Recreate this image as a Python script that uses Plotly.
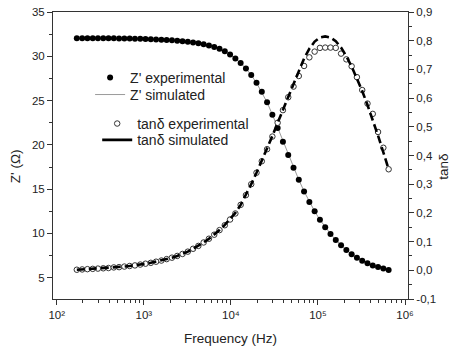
import plotly.graph_objects as go

# ---------------- data ----------------
freq_hz = [170, 196, 225, 259, 297, 342, 393, 452, 520, 598,
           688, 791, 910, 1046, 1203, 1383, 1591, 1829, 2104, 2419,
           2782, 3200, 3679, 4231, 4866, 5596, 6435, 7401, 8511, 9787,
           11255, 12944, 14885, 17118, 19686, 22639, 26034, 29940, 34431, 39595,
           45535, 52365, 60220, 69253, 79641, 91587, 105325, 121124, 139293, 160187,
           184215, 211847, 243624, 280167, 322193, 370522, 426100, 490015, 563517, 648045]

z_experimental = [32.05, 32.05, 32.05, 32.04, 32.04, 32.04, 32.03, 32.03, 32.02, 32.01,
                  32.00, 31.99, 31.97, 31.95, 31.93, 31.90, 31.87, 31.84, 31.80, 31.75,
                  31.70, 31.63, 31.55, 31.46, 31.35, 31.21, 31.05, 30.85, 30.56, 30.20,
                  29.75, 29.25, 28.62, 27.90, 27.00, 26.00, 24.80, 23.40, 21.90, 20.35,
                  18.85, 17.42, 16.05, 14.75, 13.55, 12.50, 11.55, 10.70, 9.95, 9.27,
                  8.66, 8.13, 7.66, 7.26, 6.92, 6.63, 6.38, 6.20, 6.05, 5.88]

z_simulated = [32.05, 32.05, 32.05, 32.04, 32.04, 32.04, 32.03, 32.03, 32.02, 32.01,
               32.00, 31.99, 31.97, 31.95, 31.93, 31.90, 31.87, 31.84, 31.80, 31.75,
               31.70, 31.63, 31.55, 31.46, 31.35, 31.21, 31.04, 30.83, 30.55, 30.20,
               29.76, 29.24, 28.62, 27.88, 27.00, 25.98, 24.80, 23.42, 21.92, 20.36,
               18.86, 17.43, 16.06, 14.76, 13.56, 12.50, 11.55, 10.70, 9.95, 9.27,
               8.66, 8.13, 7.66, 7.26, 6.92, 6.63, 6.39, 6.20, 6.04, 5.89]

tan_experimental = [0.002, 0.003, 0.004, 0.005, 0.006, 0.007, 0.008, 0.010, 0.011, 0.013,
                    0.015, 0.017, 0.020, 0.023, 0.026, 0.030, 0.034, 0.039, 0.044, 0.050,
                    0.057, 0.065, 0.075, 0.085, 0.097, 0.110, 0.124, 0.140, 0.157, 0.177,
                    0.198, 0.228, 0.262, 0.300, 0.340, 0.380, 0.422, 0.466, 0.514, 0.558,
                    0.603, 0.640, 0.677, 0.712, 0.742, 0.762, 0.775, 0.776, 0.776, 0.775,
                    0.755, 0.735, 0.711, 0.673, 0.628, 0.581, 0.545, 0.482, 0.427, 0.352]

tan_simulated = [0.002, 0.003, 0.004, 0.005, 0.006, 0.007, 0.008, 0.010, 0.011, 0.013,
                 0.015, 0.017, 0.020, 0.023, 0.026, 0.030, 0.034, 0.039, 0.044, 0.050,
                 0.057, 0.065, 0.075, 0.085, 0.097, 0.110, 0.124, 0.140, 0.158, 0.178,
                 0.200, 0.228, 0.262, 0.300, 0.340, 0.381, 0.424, 0.468, 0.514, 0.560,
                 0.604, 0.648, 0.695, 0.738, 0.772, 0.797, 0.811, 0.815, 0.811, 0.798,
                 0.776, 0.746, 0.710, 0.670, 0.625, 0.576, 0.524, 0.469, 0.411, 0.352]

x_tick_values = [1e2, 1e3, 1e4, 1e5, 1e6]
x_tick_labels = ["10²", "10³", "10⁴", "10⁵", "10⁶"]
z_tick_values = [5, 10, 15, 20, 25, 30, 35]
tan_tick_values = [-0.1, 0.0, 0.1, 0.2, 0.3, 0.4, 0.5, 0.6, 0.7, 0.8, 0.9]
tan_tick_labels = ["-0,1", "0,0", "0,1", "0,2", "0,3", "0,4", "0,5", "0,6", "0,7", "0,8", "0,9"]

x_title = "Frequency (Hz)"
z_title = "Z' (Ω)"
tan_title = "tanδ"

# ---------------- figure ----------------
AX = "#333333"
TXT = "#222222"
FONT = "Liberation Sans, Arial, sans-serif"

fig = go.Figure()

fig.add_trace(go.Scatter(
    x=freq_hz, y=z_simulated, mode="lines", name="Z' simulated",
    legend="legend2", line=dict(color="#9a9a9a", width=1), yaxis="y"))
fig.add_trace(go.Scatter(
    x=freq_hz, y=z_experimental, mode="markers", name="Z' experimental",
    legend="legend", marker=dict(symbol="circle", size=6, color="black"),
    yaxis="y"))

fig.add_trace(go.Scatter(
    x=freq_hz, y=tan_experimental, mode="markers", name="tanδ experimental",
    legend="legend3",
    marker=dict(symbol="circle", size=5.5, color="white",
                line=dict(color="#333333", width=1)),
    yaxis="y2"))
# tan delta simulated (dashed in plot, solid sample in legend)
fig.add_trace(go.Scatter(
    x=freq_hz, y=tan_simulated, mode="lines", name="tanδ simulated",
    showlegend=False,
    line=dict(color="black", width=2.6, dash="8px,4px"), yaxis="y2"))
fig.add_trace(go.Scatter(
    x=[None], y=[None], mode="lines", name="tanδ simulated",
    legend="legend4", line=dict(color="black", width=2.8), yaxis="y2"))

minor_x = [m * 10 ** k for k in range(1, 6) for m in range(2, 10)]

def leg(x, y):
    return dict(x=x, y=y, xanchor="left", yanchor="middle",
                bgcolor="rgba(0,0,0,0)", font=dict(size=14, color=TXT))

title_font = dict(family=FONT, size=13.5, color=TXT)

fig.update_layout(
    width=452, height=351,
    margin=dict(l=53, r=44, t=12, b=52, autoexpand=False),
    paper_bgcolor="white", plot_bgcolor="white",
    font=dict(family=FONT, size=11.5, color=TXT),
    showlegend=True,
    legend=leg(0.1045, 0.770),
    legend2=leg(0.1045, 0.711),
    legend3=leg(0.1245, 0.610),
    legend4=leg(0.1245, 0.553),
    xaxis=dict(
        type="log", range=[1.957, 6.034],
        tickmode="array", tickvals=x_tick_values, ticktext=x_tick_labels,
        ticks="outside", ticklen=5, tickcolor=AX, tickwidth=1,
        showline=True, linecolor=AX, linewidth=1, mirror=True,
        showgrid=False, zeroline=False,
        minor=dict(tickmode="array", tickvals=minor_x, ticks="outside",
                   ticklen=3, tickcolor=AX, showgrid=False),
    ),
    yaxis=dict(
        range=[2.6, 35],
        tickmode="array", tickvals=z_tick_values,
        ticks="outside", ticklen=5, tickcolor=AX,
        showline=True, linecolor=AX, linewidth=1,
        showgrid=False, zeroline=False,
        minor=dict(dtick=2.5, tick0=0, ticks="outside", ticklen=3,
                   tickcolor=AX, showgrid=False),
    ),
    yaxis2=dict(
        overlaying="y", side="right", range=[-0.1, 0.9],
        tickmode="array", tickvals=tan_tick_values, ticktext=tan_tick_labels,
        ticks="outside", ticklen=5, tickcolor=AX,
        showline=True, linecolor=AX, linewidth=1,
        showgrid=False, zeroline=False,
        minor=dict(dtick=0.05, tick0=0, ticks="outside", ticklen=3,
                   tickcolor=AX, showgrid=False),
    ),
    annotations=[
        dict(text=x_title, xref="paper", yref="paper", x=0.4986, y=-0.136,
             xanchor="center", yanchor="middle", showarrow=False, font=title_font),
        dict(text=z_title, xref="paper", yref="paper", x=-0.107, y=0.463,
             xanchor="center", yanchor="middle", textangle=-90, showarrow=False,
             font=title_font),
        dict(text=tan_title, xref="paper", yref="paper", x=1.101, y=0.460,
             xanchor="center", yanchor="middle", textangle=-90, showarrow=False,
             font=title_font),
    ],
)

fig.write_html("out.html")
